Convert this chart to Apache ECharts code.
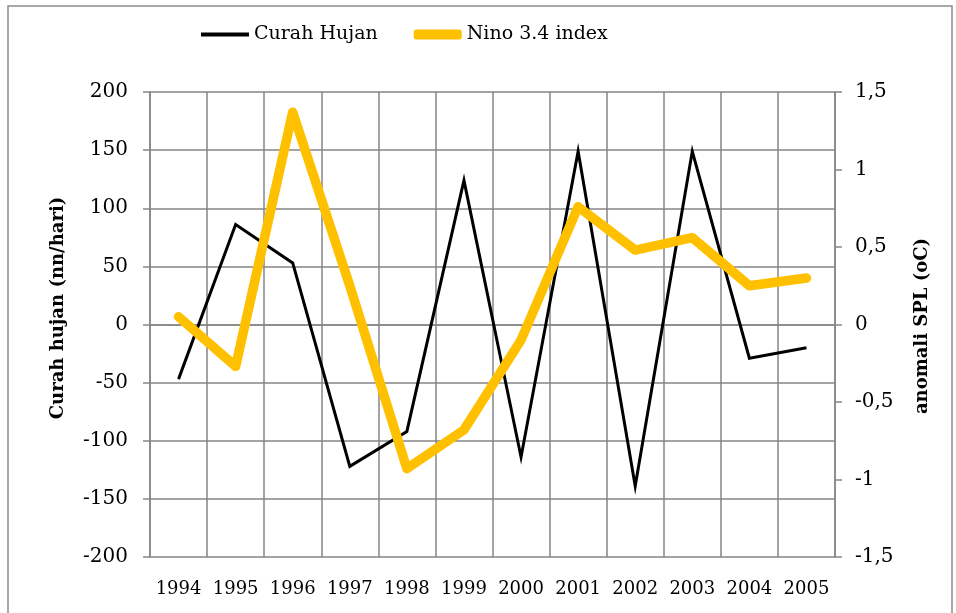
<!DOCTYPE html>
<html>
<head>
<meta charset="utf-8">
<script src="https://cdn.jsdelivr.net/npm/echarts@6/dist/echarts.min.js"></script>
<style>
  html, body { margin: 0; padding: 0; background: #fff; }
  #chart { width: 956px; height: 613px; }
</style>
</head>
<body>
<div id="chart"></div>
<script>
// data
var years = ['1994', '1995', '1996', '1997', '1998', '1999', '2000', '2001', '2002', '2003', '2004', '2005'];
var curahHujan = [-47, 86, 53, -122, -92, 124, -114, 149, -139, 149, -29, -20];
var nino34 = [0.05, -0.27, 1.37, 0.25, -0.93, -0.68, -0.1, 0.76, 0.48, 0.56, 0.25, 0.3];

var FONT = 'DejaVu Serif';
var gridColor = '#868686';

var myChart = echarts.init(document.getElementById('chart'));

var option = {
    animation: false,
    backgroundColor: '#fff',
    textStyle: { fontFamily: FONT, color: '#000' },
    graphic: [
        {
            type: 'rect',
            shape: { x: 8, y: 6, width: 944, height: 640 },
            style: { fill: 'none', stroke: '#8c8c8c', lineWidth: 1.5 },
            silent: true
        },
        // axis titles
        {
            type: 'text',
            x: 58, y: 308,
            rotation: Math.PI / 2,
            style: {
                text: 'Curah hujan (nn/hari)',
                fontFamily: FONT, fontSize: 18, fontWeight: 'bold', fill: '#000',
                align: 'center', verticalAlign: 'middle'
            }
        },
        {
            type: 'text',
            x: 922, y: 326,
            rotation: Math.PI / 2,
            style: {
                text: 'anomali SPL (oC)',
                fontFamily: FONT, fontSize: 18, fontWeight: 'bold', fill: '#000',
                align: 'center', verticalAlign: 'middle'
            }
        }
    ],
    legend: {
        top: 20,
        left: 196,
        itemWidth: 48,
        itemHeight: 10,
        itemGap: 36,
        textStyle: { fontFamily: FONT, fontSize: 19, color: '#000' },
        data: [
            { name: 'Curah Hujan', icon: 'path://M0,0 L48,0 L48,4 L0,4 Z' },
            { name: 'Nino 3.4 index', icon: 'roundRect' }
        ]
    },
    grid: {
        left: 150,
        right: 121,
        top: 92,
        bottom: 56
    },
    xAxis: {
        type: 'category',
        data: years,
        boundaryGap: true,
        axisLine: { lineStyle: { color: gridColor, width: 1.5 } },
        axisTick: { show: false },
        splitLine: { show: true, interval: 0, lineStyle: { color: gridColor, width: 1.5 } },
        axisLabel: { interval: 0, fontFamily: FONT, fontSize: 18, color: '#000', margin: 23 }
    },
    yAxis: [
        {
            type: 'value',
            min: -200,
            max: 200,
            interval: 50,
            axisLine: { show: true, lineStyle: { color: gridColor, width: 1.5 } },
            axisTick: { show: true, length: 7, lineStyle: { color: gridColor, width: 1.5 } },
            splitLine: { show: true, lineStyle: { color: gridColor, width: 1.5 } },
            axisLabel: { fontFamily: FONT, fontSize: 20, color: '#000', margin: 22 }
        },
        {
            type: 'value',
            min: -1.5,
            max: 1.5,
            interval: 0.5,
            position: 'right',
            axisLine: { show: true, lineStyle: { color: gridColor, width: 1.5 } },
            axisTick: { show: true, length: 7, lineStyle: { color: gridColor, width: 1.5 } },
            splitLine: { show: false },
            axisLabel: {
                fontFamily: FONT, fontSize: 20, color: '#000', margin: 20,
                formatter: function (v) { return String(v).replace('.', ','); }
            }
        }
    ],
    series: [
        {
            name: 'Curah Hujan',
            type: 'line',
            yAxisIndex: 0,
            symbol: 'none',
            data: curahHujan,
            itemStyle: { color: '#000' },
            lineStyle: { color: '#000', width: 3, join: 'miter' },
            z: 3
        },
        {
            name: 'Nino 3.4 index',
            type: 'line',
            yAxisIndex: 1,
            symbol: 'none',
            data: nino34,
            itemStyle: { color: '#ffc000' },
            lineStyle: { color: '#ffc000', width: 9.5, cap: 'round', join: 'round' },
            z: 4
        }
    ]
};

myChart.setOption(option);
</script>
</body>
</html>
